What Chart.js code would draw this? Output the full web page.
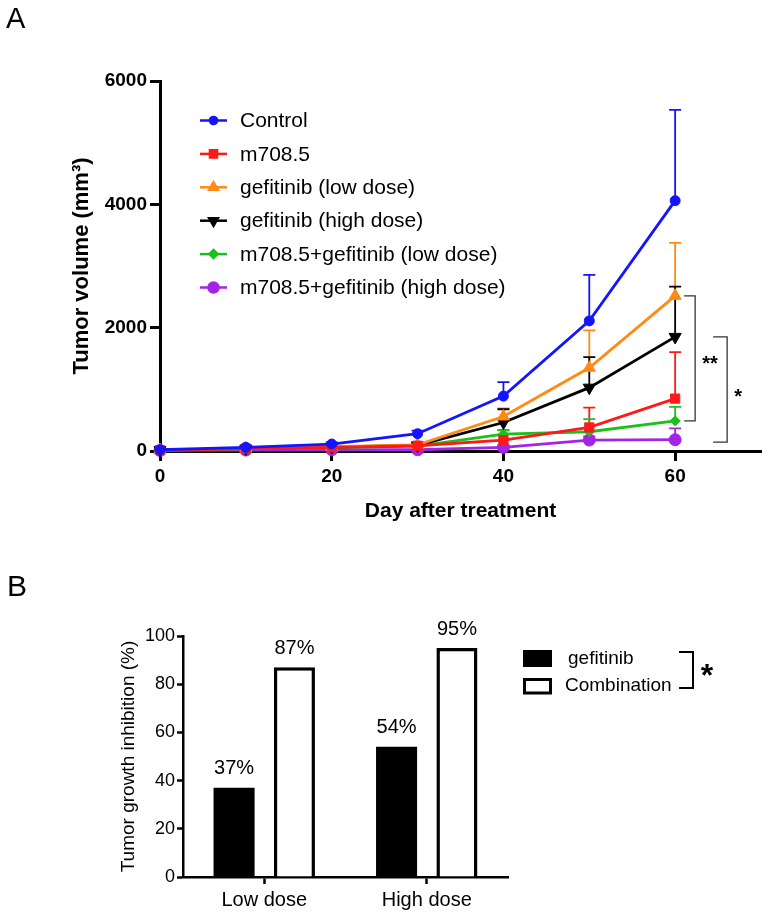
<!DOCTYPE html>
<html><head><meta charset="utf-8">
<script src="https://cdn.jsdelivr.net/npm/chart.js@4/dist/chart.umd.min.js"></script>
<style>
html,body{margin:0;padding:0;background:#fff;width:769px;height:918px;overflow:hidden;}
#wrapA{position:absolute;left:0;top:0;width:769px;height:540px;}
#wrapB{position:absolute;left:0;top:540px;width:769px;height:378px;}
.lbl{position:absolute;font-family:"Liberation Sans",Arial,sans-serif;font-size:30px;line-height:1;color:#000;}
</style></head><body>
<div id="wrapA"><canvas id="chartA" width="769" height="540"></canvas></div>
<div id="wrapB"><canvas id="chartB" width="769" height="378"></canvas></div>
<div class="lbl" style="left:6px;top:4px;font-size:29px">A</div>
<div class="lbl" style="left:7px;top:571px">B</div>
<script>
const FONT = '"Liberation Sans", Arial, Helvetica, sans-serif';

// ---------- Panel A data ----------
const days = [0, 10, 20, 30, 40, 50, 60];
const seriesLabels = ['Control', 'm708.5', 'gefitinib (low dose)', 'gefitinib (high dose)', 'm708.5+gefitinib (low dose)', 'm708.5+gefitinib (high dose)'];
const control      = [20, 60, 113, 280, 890, 2110, 4060];
const controlErr   = [5, 15, 25, 50, 228, 745, 1472];
const m708         = [15, 40, 60, 85, 177, 382, 850];
const m708Err      = [5, 15, 20, 30, 162, 322, 752];
const gefLow       = [15, 40, 70, 100, 560, 1350, 2516];
const gefLowErr    = [5, 15, 20, 40, 130, 607, 860];
const gefHigh      = [15, 40, 65, 90, 462, 1027, 1850];
const gefHighErr   = [5, 15, 20, 35, 215, 494, 817];
const comboLow     = [15, 35, 55, 80, 274, 312, 489];
const comboLowErr  = [5, 10, 15, 25, 60, 204, 226];
const comboHigh    = [10, 15, 20, 20, 59, 177, 183];
const comboHighErr = [5, 8, 10, 15, 30, 60, 183];
const xTickValues = [0, 20, 40, 60];
const yTickValues = [0, 2000, 4000, 6000];

// ---------- Panel B data ----------
const doseCategories = ['Low dose', 'High dose'];
const barLabels = ['gefitinib', 'Combination'];
const gefInhibition = [37, 54];
const comboInhibition = [87, 95];
const yTickValuesB = [0, 20, 40, 60, 80, 100];

function pts(vals){ return days.map((d, i) => ({x: d, y: vals[i]})); }

const styleA = [
  {color:'#1414FF', pointStyle:'circle',   radius:5,   rotation:0,   legendRadius:3.6},
  {color:'#FF1A1A', pointStyle:'rect',     radius:6.5, rotation:0,   legendRadius:5},
  {color:'#FF8A14', pointStyle:'triangle', radius:7,   rotation:0,   legendRadius:5},
  {color:'#000000', pointStyle:'triangle', radius:7,   rotation:180, legendRadius:5},
  {color:'#1DBF1D', pointStyle:'rectRot',  radius:5,   rotation:0,   legendRadius:4},
  {color:'#A424E6', pointStyle:'circle',   radius:6,   rotation:0,   legendRadius:5}
];
const valsA = [control, m708, gefLow, gefHigh, comboLow, comboHigh];
const errsA = [controlErr, m708Err, gefLowErr, gefHighErr, comboLowErr, comboHighErr];

const datasetsA = valsA.map((v, i) => ({
  label: seriesLabels[i],
  data: pts(v),
  errors: errsA[i],
  borderColor: styleA[i].color,
  backgroundColor: styleA[i].color,
  pointBackgroundColor: styleA[i].color,
  pointBorderColor: styleA[i].color,
  pointStyle: styleA[i].pointStyle,
  pointRadius: styleA[i].radius,
  pointRotation: styleA[i].rotation,
  pointBorderWidth: 1,
  borderWidth: 2.8,
  tension: 0,
  clip: false
}));

function drawMarker(ctx, st, x, y, r){
  if (Chart.helpers && Chart.helpers.drawPoint) {
    Chart.helpers.drawPoint(ctx, {pointStyle: st.pointStyle, radius: r, rotation: st.rotation, borderWidth: 1}, x, y);
  } else {
    ctx.beginPath(); ctx.arc(x, y, r, 0, Math.PI*2); ctx.fill();
  }
}

const errorBarsA = {
  id: 'errorBarsA',
  beforeDatasetsDraw(chart){
    const ctx = chart.ctx, xs = chart.scales.x, ys = chart.scales.y;
    ctx.save();
    chart.data.datasets.forEach((ds) => {
      ctx.strokeStyle = ds.borderColor; ctx.lineWidth = 1.8;
      ds.data.forEach((p, i) => {
        const x = xs.getPixelForValue(p.x);
        const y0 = ys.getPixelForValue(p.y);
        const y1 = ys.getPixelForValue(p.y + ds.errors[i]);
        ctx.beginPath();
        ctx.moveTo(x, y0); ctx.lineTo(x, y1);
        ctx.moveTo(x - 6, y1); ctx.lineTo(x + 6, y1);
        ctx.stroke();
      });
    });
    ctx.restore();
  }
};

const legendA = {
  id: 'legendA',
  afterDraw(chart){
    const ctx = chart.ctx, ca = chart.chartArea;
    ctx.save();
    chart.data.datasets.forEach((ds, i) => {
      const y = ca.top + 39.5 + i * 33.4;
      const x0 = ca.left + 40, x1 = ca.left + 67;
      ctx.strokeStyle = ds.borderColor; ctx.fillStyle = ds.borderColor; ctx.lineWidth = 2.5;
      ctx.beginPath(); ctx.moveTo(x0, y); ctx.lineTo(x1, y); ctx.stroke();
      drawMarker(ctx, styleA[i], (x0 + x1) / 2, y, styleA[i].legendRadius);
      ctx.fillStyle = '#000';
      ctx.font = '21px ' + FONT;
      ctx.textBaseline = 'middle'; ctx.textAlign = 'left';
      ctx.fillText(ds.label, ca.left + 80, y + 1);
    });
    ctx.restore();
  }
};

const bracketsA = {
  id: 'bracketsA',
  afterDraw(chart){
    const ctx = chart.ctx, xs = chart.scales.x, ys = chart.scales.y;
    const last = days.length - 1;
    const xLast = xs.getPixelForValue(days[last]);
    ctx.save();
    ctx.strokeStyle = '#333'; ctx.lineWidth = 1.3;
    function bracket(xv, topVal, botVal, w){
      const yt = ys.getPixelForValue(topVal), yb = ys.getPixelForValue(botVal);
      ctx.beginPath();
      ctx.moveTo(xv - w, yt); ctx.lineTo(xv, yt); ctx.lineTo(xv, yb); ctx.lineTo(xv - w, yb);
      ctx.stroke();
      return (yt + yb) / 2;
    }
    const m1 = bracket(xLast + 20, gefLow[last], comboLow[last], 11);
    const m2 = bracket(xLast + 52, gefHigh[last], comboHigh[last] - 40, 14);
    ctx.fillStyle = '#000';
    ctx.font = 'bold 20px ' + FONT;
    ctx.textAlign = 'left'; ctx.textBaseline = 'middle';
    ctx.fillText('**', xLast + 27, m1 + 6);
    ctx.fillText('*', xLast + 59, m2 + 8);
    ctx.restore();
  }
};

const tickFontA = {family: FONT, size: 19, weight: 'bold'};
const plainTick = v => String(v);

new Chart(document.getElementById('chartA'), {
  type: 'line',
  data: {datasets: datasetsA},
  options: {
    responsive: false, animation: false, devicePixelRatio: 1,
    layout: {padding: {top: 81, right: 7, left: 0, bottom: 0}},
    plugins: {legend: {display: false}, tooltip: {enabled: false}},
    scales: {
      x: {
        type: 'linear', min: 0, max: 70,
        afterBuildTicks: s => { s.ticks = xTickValues.map(v => ({value: v})); },
        afterFit: s => { s.height = 89; },
        ticks: {font: tickFontA, color: '#000', padding: 4, callback: plainTick},
        grid: {drawOnChartArea: false, drawTicks: true, tickLength: 10, tickWidth: 3, color: '#000'},
        border: {color: '#000', width: 3},
        title: {display: true, text: 'Day after treatment', color: '#000', font: {family: FONT, size: 21, weight: 'bold'}, padding: {top: 0, bottom: 16}}
      },
      y: {
        min: 0, max: 6000,
        afterBuildTicks: s => { s.ticks = yTickValues.map(v => ({value: v})); },
        afterFit: s => { s.width = 160; },
        ticks: {font: tickFontA, color: '#000', padding: 3, callback: plainTick},
        grid: {drawOnChartArea: false, drawTicks: true, tickLength: 10, tickWidth: 3, color: '#000'},
        border: {color: '#000', width: 3},
        title: {display: true, text: 'Tumor volume (mm³)', color: '#000', font: {family: FONT, size: 22, weight: 'bold'}, padding: {top: 69, bottom: 0}}
      }
    }
  },
  plugins: [errorBarsA, legendA, bracketsA]
});

// ---------- Panel B ----------
const valueLabelsB = {
  id: 'valueLabelsB',
  afterDatasetsDraw(chart){
    const ctx = chart.ctx;
    ctx.save();
    ctx.fillStyle = '#000'; ctx.font = '20px ' + FONT;
    ctx.textAlign = 'center'; ctx.textBaseline = 'bottom';
    chart.data.datasets.forEach((ds, di) => {
      chart.getDatasetMeta(di).data.forEach((bar, i) => {
        ctx.fillText(ds.data[i] + '%', bar.x, bar.y - 9);
      });
    });
    ctx.restore();
  }
};

const legendB = {
  id: 'legendB',
  afterDraw(chart){
    const ctx = chart.ctx;
    ctx.save();
    const rows = [119, 146];
    chart.data.datasets.forEach((ds, i) => {
      const y = rows[i];
      if (i === 0) {
        ctx.fillStyle = ds.backgroundColor; ctx.fillRect(523, y - 9, 29, 17);
      } else {
        ctx.fillStyle = '#fff'; ctx.fillRect(523, y - 8, 29, 16);
        ctx.strokeStyle = ds.borderColor; ctx.lineWidth = 3; ctx.strokeRect(524.5, y - 6.5, 26, 13.5);
      }
      ctx.fillStyle = '#000'; ctx.font = '19px ' + FONT;
      ctx.textAlign = 'left'; ctx.textBaseline = 'middle';
      ctx.fillText(ds.label, i === 0 ? 568 : 565, y);
    });
    ctx.strokeStyle = '#000'; ctx.lineWidth = 2;
    ctx.beginPath();
    ctx.moveTo(679, 112); ctx.lineTo(693, 112); ctx.lineTo(693, 148); ctx.lineTo(679, 148);
    ctx.stroke();
    ctx.fillStyle = '#000'; ctx.font = 'bold 32px ' + FONT;
    ctx.textAlign = 'center'; ctx.textBaseline = 'middle';
    ctx.fillText('*', 707, 137);
    ctx.restore();
  }
};

new Chart(document.getElementById('chartB'), {
  type: 'bar',
  data: {
    labels: doseCategories,
    datasets: [
      {label: barLabels[0], data: gefInhibition, backgroundColor: '#000', borderColor: '#000', borderWidth: 0},
      {label: barLabels[1], data: comboInhibition, backgroundColor: '#fff', borderColor: '#000', borderWidth: 3.5}
    ]
  },
  options: {
    responsive: false, animation: false, devicePixelRatio: 1,
    categoryPercentage: 0.743, barPercentage: 0.68,
    layout: {padding: {top: 96, right: 261, left: 0, bottom: 0}},
    plugins: {legend: {display: false}, tooltip: {enabled: false}},
    scales: {
      x: {
        afterFit: s => { s.height = 41; },
        ticks: {font: {family: FONT, size: 20}, color: '#000', padding: 4},
        grid: {offset: false, drawOnChartArea: false, drawTicks: true, tickLength: 7, tickWidth: 2.5, color: '#000'},
        border: {color: '#000', width: 2.5}
      },
      y: {
        min: 0, max: 100,
        afterBuildTicks: s => { s.ticks = yTickValuesB.map(v => ({value: v})); },
        afterFit: s => { s.width = 183; },
        ticks: {font: {family: FONT, size: 18}, color: '#000', padding: 2},
        grid: {drawOnChartArea: false, drawTicks: true, tickLength: 6, tickWidth: 2.5, color: '#000'},
        border: {color: '#000', width: 2.5},
        title: {display: true, text: 'Tumor growth inhibition (%)', color: '#000', font: {family: FONT, size: 19}, padding: {top: 117, bottom: 0}}
      }
    }
  },
  plugins: [valueLabelsB, legendB]
});
</script>
</body></html>
